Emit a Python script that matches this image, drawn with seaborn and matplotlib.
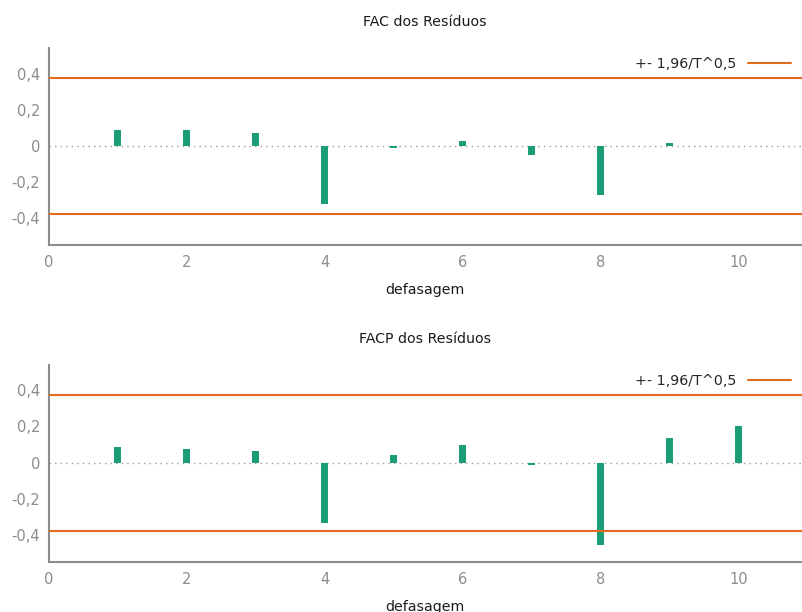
import matplotlib
matplotlib.use("Agg")
import matplotlib.pyplot as plt
import seaborn as sns
import pandas as pd
from matplotlib.lines import Line2D

# Autocorrelations of the residuals (lags 1..10)
lags = [1, 2, 3, 4, 5, 6, 7, 8, 9, 10]
fac = [0.087, 0.087, 0.072, -0.324, -0.013, 0.028, -0.052, -0.272, 0.013, -0.004]
facp = [0.087, 0.077, 0.062, -0.337, 0.044, 0.096, -0.015, -0.457, 0.138, 0.204]
band = 0.377  # 1.96 / sqrt(T)

titles = ["FAC dos Resíduos", "FACP dos Resíduos"]
xlabel = "defasagem"
legend_label = "+- 1,96/T^0,5"
yticks = [-0.4, -0.2, 0, 0.2, 0.4]
ytick_labels = ["-0,4", "-0,2", "0", "0,2", "0,4"]
xticks = [0, 2, 4, 6, 8, 10]

bar_color = "#1b9e77"
band_color = "#e26c1e"
axis_gray = "#8c8c8c"

sns.set_style("white")
plt.rcParams["font.family"] = ["DejaVu Sans"]

fig = plt.figure(figsize=(8.02, 6.12), dpi=100)
positions = [
    [48.5 / 802, 1 - 245.3 / 612, (802 - 48.5) / 802, (245.3 - 48.3) / 612],
    [48.5 / 802, 1 - 562.3 / 612, (802 - 48.5) / 802, (562.3 - 365.0) / 612],
]

for pos, vals, title in zip(positions, [fac, facp], titles):
    ax = fig.add_axes(pos)
    df = pd.DataFrame({"lag": lags, "valor": vals})
    sns.barplot(data=df, x="lag", y="valor", native_scale=True, width=0.105,
                color=bar_color, saturation=1, ax=ax, zorder=3, edgecolor="none")
    ax.axhline(0, color="#9a9a9a", lw=1.0, ls=(0, (1, 3)), zorder=1)
    ax.axhline(band, color=band_color, lw=1.5, zorder=4)
    ax.axhline(-band, color=band_color, lw=1.5, zorder=4)

    ax.set_xlim(0, 10.92)
    ax.set_ylim(-0.553, 0.541)
    ax.set_xticks(xticks)
    ax.set_xticklabels([str(t) for t in xticks])
    ax.set_yticks(yticks)
    ax.set_yticklabels(ytick_labels)

    for side in ["top", "right"]:
        ax.spines[side].set_visible(False)
    for side in ["left", "bottom"]:
        ax.spines[side].set_color(axis_gray)
        ax.spines[side].set_linewidth(1.5)

    ax.tick_params(axis="both", direction="in", length=5, width=1.2,
                   color=axis_gray, labelcolor=axis_gray, labelsize=10.5)
    ax.tick_params(axis="x", pad=7)
    ax.tick_params(axis="y", pad=6)

    ax.set_xlabel(xlabel, fontsize=10.2, color="#1a1a1a", labelpad=9)
    ax.set_ylabel("")
    ax.set_title(title, fontsize=10.2, color="#1a1a1a", pad=16)

    handle = Line2D([], [], color=band_color, lw=1.5)
    ax.legend([handle], [legend_label], loc="upper right", frameon=False,
              markerfirst=False, fontsize=10.3, handlelength=3.0,
              bbox_to_anchor=(0.9985, 1.005), borderaxespad=0.3)
    ax.grid(False)

fig.savefig("out.png", dpi=100)
